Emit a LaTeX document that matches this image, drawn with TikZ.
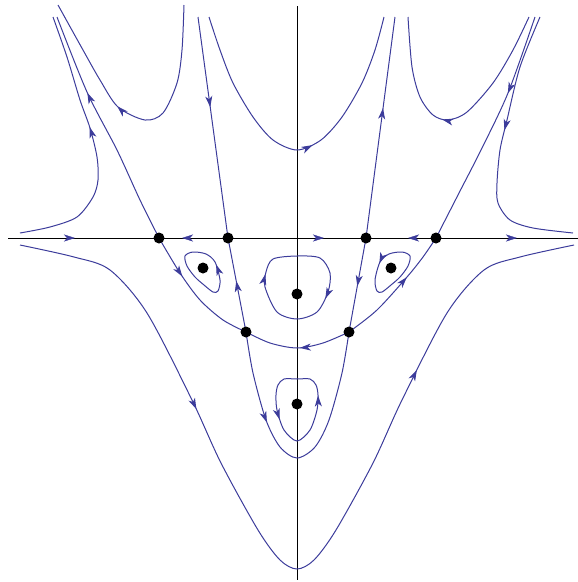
\documentclass[tikz,border=0pt]{standalone}
\usepackage{amsmath}
\usetikzlibrary{arrows.meta,decorations.markings}

\definecolor{blau}{RGB}{60,60,155}
\tikzset{
  flux/.style={draw=blau, line width=1pt},
  fletxa/.style={postaction={decorate, decoration={markings,
      mark=at position #1 with {\arrow[blau]{Stealth[length=11pt,width=7pt,inset=3pt]}}}}},
}

\begin{document}
\begin{tikzpicture}[x=1pt,y=-1pt]
        \useasboundingbox (0,0) rectangle (578,582);
        % Punts d'equilibri: selles (s) i centres (c)
        \coordinate (s1) at (159,238);
        \coordinate (s2) at (228,238);
        \coordinate (s3) at (366,238);
        \coordinate (s4) at (436,238);
        \coordinate (s5) at (246,332);
        \coordinate (s6) at (349,332);
        \coordinate (c1) at (203,268);
        \coordinate (c2) at (391,268);
        \coordinate (c3) at (297,294);
        \coordinate (c4) at (297,404);
        \coordinate (eixE) at (8,238);
        \coordinate (eixD) at (578,238);
        \coordinate (eixA) at (297,6);
        \coordinate (eixB) at (297,580);

        % Eixos
        \draw[line width=1pt] (eixE) -- (eixD);
        \draw[line width=1pt] (eixA) -- (eixB);
        \path[fletxa=67pt] (eixE) -- (s1);
        \path[fletxa=46pt] (s2) -- (s1);
        \path[fletxa=96pt] (s2) -- (s3);
        \path[fletxa=28pt] (s4) -- (s3);
        \path[fletxa=81pt] (s4) -- (eixD);

        % Corbes de dalt
        \draw[flux, fletxa=163pt] plot[smooth] coordinates {(184,5) (182,50) (177,83) (163,113) (145,120) (118,107) (100,80) (83,50) (58,5)};
        \draw[flux, fletxa=183pt] plot[smooth] coordinates {(209,17) (220,50) (233,83) (253,117) (273,140) (297,150) (321,140) (342,117) (362,83) (375,50) (384,17)};
        \draw[flux, fletxa=141pt] plot[smooth] coordinates {(529,17) (513,50) (493,83) (467,112) (448,120) (433,115) (420,97) (412,67) (408,17)};
        \draw[flux, fletxa=157pt] plot[smooth] coordinates {(20,233) (50,227) (77,217) (93,197) (98,180) (97,157) (90,128) (80,100) (67,57) (53,17)};
        \draw[flux, fletxa=119pt] plot[smooth] coordinates {(540,17) (520,67) (507,120) (500,150) (497,183) (498,203) (510,220) (533,228) (573,233)};

        % Separatrius
        \draw[flux, fletxa=162pt] plot[smooth] coordinates {(s1) (140,200) (117,150) (87,92) (57,17)};
        \draw[flux, fletxa=45pt] plot[smooth] coordinates {(s1) (180,273) (200,300) (223,320) (s5)};
        \draw[flux, fletxa=52pt] plot[smooth] coordinates {(s6) (323,343) (297,348) (270,343) (s5)};
        \draw[flux, fletxa=80pt] plot[smooth] coordinates {(s6) (377,310) (407,277) (423,257) (s4)};
        \draw[flux, fletxa=81pt] plot[smooth] coordinates {(535,17) (508,93) (481,150) (459,193) (s4)};
        \draw[flux, fletxa=91pt] (198,17) -- (s2);
        \draw[flux, fletxa=52pt] (s5) -- (s2);
        \draw[flux, fletxa=93pt] plot[smooth] coordinates {(s5) (253,373) (266,420) (280,447) (297,458) (315,447) (329,420) (342,373) (s6)};
        \draw[flux, fletxa=49pt] (s3) -- (s6);
        \draw[flux, fletxa=131pt] (s3) -- (395,17);

        % Orbites tancades (el recorregut comença al segon punt)
        \draw[flux, fletxa=16pt] plot[smooth cycle] coordinates {(218,291) (220,280) (215,262) (206,254) (193,252) (185,256) (187,266) (195,277) (204,285) (213,292)};
        \draw[flux, fletxa=27pt] plot[smooth cycle] coordinates {(410,256) (402,252) (389,254) (380,262) (375,280) (377,291) (382,292) (391,285) (400,277) (408,266)};
        \draw[flux, fletxa=68pt, fletxa=168pt] plot[smooth cycle] coordinates {(273,259) (297,256) (320,258) (330,273) (328,292) (317,312) (297,319) (277,312) (265,287) (266,272)};
        \draw[flux, fletxa=57pt, fletxa=139pt] plot[smooth cycle] coordinates {(310,379) (297,379) (284,379) (278,385) (276,395) (277,410) (284,430) (297,441) (310,430) (317,410) (318,395) (316,385)};

        % Corba de baix
        \draw[flux, fletxa=259pt, fletxa=688pt] plot[smooth] coordinates {(20,245) (74,257) (110,270) (147,313) (192,400) (221,463) (258,530) (280,560) (297,569) (314,560) (336,530) (373,463) (402,400) (447,313) (484,270) (520,257) (574,245)};

        % Punts
        \foreach \p in {s1,s2,s3,s4,s5,s6,c1,c2,c3,c4}
            \fill (\p) circle (5.5);
    \end{tikzpicture}
\end{document}
